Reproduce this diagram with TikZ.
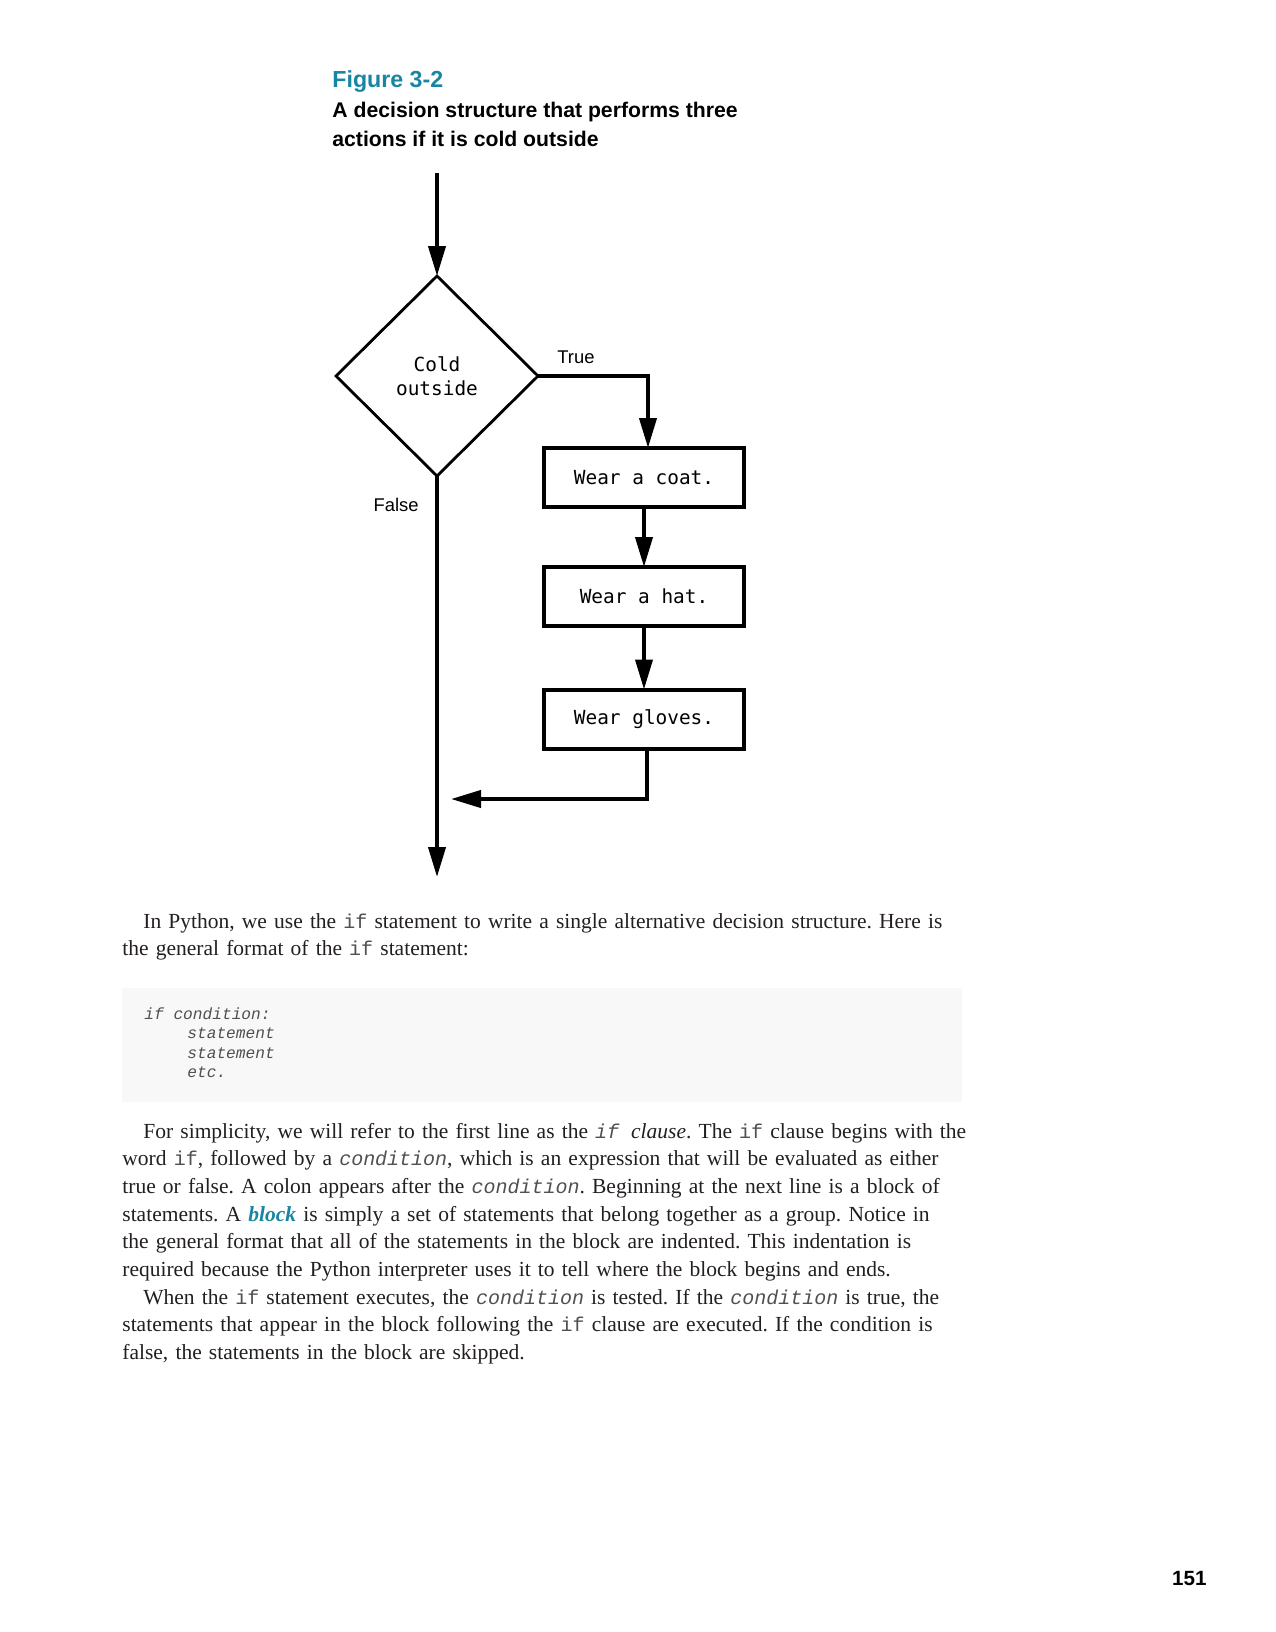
\documentclass[tikz,border=0pt]{standalone}
\usepackage{fontspec}
\setmainfont{Liberation Serif}
\setsansfont{Liberation Sans}
\setmonofont{DejaVu Sans Mono}
\newfontfamily\codefont[Scale=0.93]{Liberation Mono}
\usetikzlibrary{shapes.geometric,arrows.meta}
\definecolor{figteal}{RGB}{24,133,163}
\definecolor{codebg}{RGB}{248,248,248}
\definecolor{codegray}{RGB}{80,80,80}
\definecolor{ink}{RGB}{35,31,32}
\newcommand{\kw}[1]{{\codefont\color{codegray}#1}}
\newcommand{\bodyfont}{\rmfamily\fontsize{10.75}{13.85}\selectfont\frenchspacing}
\tikzset{
  flowbox/.style={draw, line width=2pt, minimum width=100pt, minimum height=29.5pt,
    inner sep=0pt, outer sep=0pt, font=\ttfamily\fontsize{9.7}{12}\selectfont},
  decision/.style={diamond, draw, line width=1.4pt, aspect=1, minimum width=101pt,
    minimum height=100pt, inner sep=0pt, outer sep=0pt, align=center,
    font=\ttfamily\fontsize{9.7}{12}\selectfont},
  flow/.style={line width=2pt, -{Triangle[length=15pt,width=8.5pt]}},
  branchtext/.style={font=\sffamily\fontsize{9.2}{11}\selectfont},
  bodytext/.style={anchor=base west, text width=470pt, align=left, inner sep=0pt,
    font=\bodyfont, text=ink}
}
\begin{document}
\begin{tikzpicture}[x=0.5pt,y=-0.5pt]
\useasboundingbox (0,0) rectangle (1275,1632);

% figure heading
\node[anchor=base west, inner sep=0pt, text=figteal,
  font=\sffamily\bfseries\fontsize{11.6}{14}\selectfont] (fignum) at (332,88) {Figure 3-2};
\node[anchor=base west, inner sep=0pt, font=\sffamily\bfseries\fontsize{10.6}{12}\selectfont]
  (capone) at (332,118) {A decision structure that performs three};
\node[anchor=base west, inner sep=0pt, font=\sffamily\bfseries\fontsize{10.6}{12}\selectfont]
  (captwo) at (332,147) {actions if it is cold outside};

% flowchart
\coordinate (start) at (437,173);
\node[decision] (cold) at (437,376) {Cold\\outside};
\node[flowbox] (coat) at (644,477.5) {Wear a coat.};
\node[flowbox] (hat) at (644,596.5) {Wear a hat.};
\node[flowbox] (gloves) at (644,719) {Wear gloves.};
\coordinate (merge) at (451,799);
\coordinate (stop) at (437,877);

\draw[flow] (start) -- (cold.north);
\draw[flow] (cold.east) -| ([xshift=2pt]coat.north);
\draw[flow] (coat) -- (hat);
\draw[flow] (hat) -- (gloves);
\draw[flow] ([xshift=1.5pt]gloves.south) |- (merge);
\draw[flow] (cold.south) -- (stop);

\node[branchtext, anchor=base west, inner sep=0pt] (truelbl) at (557,363) {True};
\node[branchtext, anchor=base east, inner sep=0pt] (falselbl) at (419,511) {False};

% page text
\node[bodytext] (paraone) at (122,928) {%
  \hspace*{10.5pt}In Python, we use the \kw{if} statement to write a single alternative decision structure. Here is\\
  the general format of the \kw{if} statement:};

\fill[codebg] (122,988) rectangle (962,1102);
\node[anchor=base west, inner sep=0pt, text width=300pt, align=left, text=codegray,
  font=\codefont\itshape\fontsize{8.7}{9.75}\selectfont] (code) at (144,1019) {%
  if\phantom{x}condition:\\
  \hspace*{21.5pt}statement\\
  \hspace*{21.5pt}statement\\
  \hspace*{21.5pt}etc.};

\node[bodytext] (paratwo) at (122,1138) {%
  \hspace*{10.5pt}For simplicity, we will refer to the first line as the \textit{\kw{if\phantom{x}}clause}. The \kw{if} clause begins with the\\
  word \kw{if}, followed by a \kw{\itshape condition}, which is an expression that will be evaluated as either\\
  true or false. A colon appears after the \kw{\itshape condition}. Beginning at the next line is a block of\\
  statements. A \textcolor{figteal}{\textbf{\textit{block}}} is simply a set of statements that belong together as a group. Notice in\\
  the general format that all of the statements in the block are indented. This indentation is\\
  required because the Python interpreter uses it to tell where the block begins and ends.\\
  \hspace*{10.5pt}When the \kw{if} statement executes, the \kw{\itshape condition} is tested. If the \kw{\itshape condition} is true, the\\
  statements that appear in the block following the \kw{if} clause are executed. If the condition is\\
  false, the statements in the block are skipped.};

\node[anchor=base east, inner sep=0pt, font=\sffamily\bfseries\fontsize{10.3}{12}\selectfont]
  (pageno) at (1207,1585) {151};
\end{tikzpicture}
\end{document}
